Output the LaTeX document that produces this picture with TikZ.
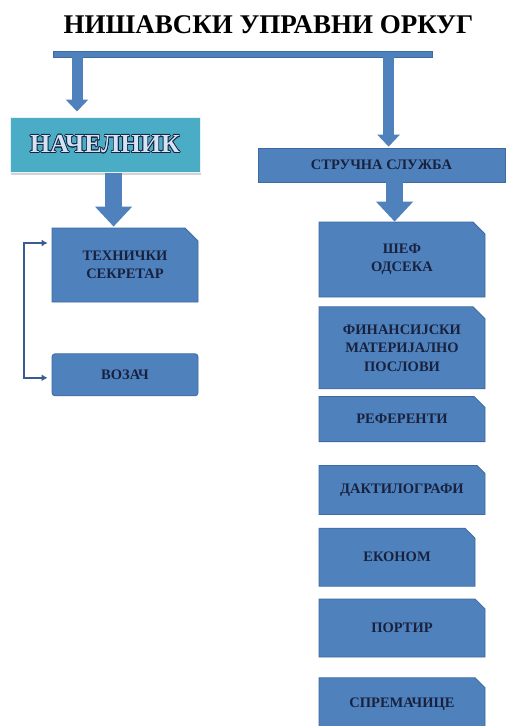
\documentclass[tikz,border=0pt]{standalone}
\usepackage{fontspec}
\setmainfont{Liberation Serif}
\usepackage[copies]{contour}
\contourlength{0.7pt}
\usepackage{tikz}
\usetikzlibrary{arrows.meta,positioning,shapes.misc,shadows,calc}
\definecolor{nuoblue}{HTML}{4F81BD}
\definecolor{nuoedge}{HTML}{3D6AA0}
\definecolor{nuoaqua}{HTML}{4BACC6}
\definecolor{nuonavy}{HTML}{18223F}
\definecolor{nuolight}{HTML}{D3E5F5}
\definecolor{nuoline}{HTML}{3A5D91}
\tikzset{
  unit/.style={chamfered rectangle,chamfered rectangle corners=north east,chamfered rectangle sep=6pt,fill=nuoblue,draw=nuoedge,line width=0.8pt,text=nuonavy,font=\bfseries\fontsize{14.5}{18.5}\selectfont,align=center,inner sep=0pt,minimum width=166pt},
  flatunit/.style={unit,rectangle,rounded corners=3pt},
  chiefbox/.style={rectangle,fill=nuoaqua,draw=white!85!nuoaqua,line width=1pt,inner sep=0pt,minimum width=190pt,minimum height=55pt,font=\bfseries\fontsize{26}{30}\selectfont,drop shadow={shadow xshift=1pt,shadow yshift=-3pt,opacity=0.35}},
  bar/.style={rectangle,fill=nuoblue,draw=nuoedge,line width=0.5pt,inner sep=0pt,minimum width=379pt,minimum height=6pt},
  thinar/.style={draw=nuoblue,line width=11pt,-{Triangle[length=12pt,width=22pt]}},
  blockar/.style={draw=nuoblue,line width=17pt,-{Triangle[length=20pt,width=36pt]}},
  bracket/.style={draw=nuoline,line width=2.5pt,{Latex[length=6pt,width=7pt]}-{Latex[length=6pt,width=7pt]}},
}
\begin{document}
\begin{tikzpicture}[x=1pt,y=-1pt,node distance=9pt]
    \useasboundingbox (0,0) rectangle (506,726);
    \node[anchor=base,font=\bfseries\fontsize{27}{30}\selectfont] (title) at (268.5,33) {НИШАВСКИ УПРАВНИ ОРКУГ};
    \node[bar] (bar) at (242.5,54) {};
    % left branch
    \node[chiefbox] (chief) at (105,144.5) {\contour{nuonavy}{\textcolor{nuolight}{НАЧЕЛНИК}}};
    \node[unit,minimum width=146pt,minimum height=74pt,chamfered rectangle sep=6.5pt] (tech) at (125,265) {ТЕХНИЧКИ\\СЕКРЕТАР};
    \node[flatunit,minimum width=146pt,minimum height=42pt,below=51pt of tech] (driver) {ВОЗАЧ};
    % right branch
    \node[unit,rectangle,minimum width=247pt,minimum height=34pt,font=\bfseries\fontsize{14.5}{16}\selectfont] (service) at (381.5,165) {СТРУЧНА СЛУЖБА};
    \node[unit,minimum height=75pt] (head) at (402,259.5) {ШЕФ\\ОДСЕКА};
    \node[unit,minimum height=82pt,below=9pt of head.south west,anchor=north west] (fin) {ФИНАНСИЈСКИ\\МАТЕРИЈАЛНО\\ПОСЛОВИ};
    \node[unit,minimum height=45pt,below=7pt of fin.south west,anchor=north west] (ref) {РЕФЕРЕНТИ};
    \node[unit,minimum height=49pt,chamfered rectangle sep=4pt,below=23pt of ref.south west,anchor=north west] (typist) {ДАКТИЛОГРАФИ};
    \node[unit,minimum width=156pt,minimum height=58pt,chamfered rectangle sep=5pt,below=13pt of typist.south west,anchor=north west] (steward) {ЕКОНОМ};
    \node[unit,minimum height=58pt,chamfered rectangle sep=5pt,below=12pt of steward.south west,anchor=north west] (porter) {ПОРТИР};
    \node[unit,minimum height=53pt,chamfered rectangle sep=5pt,below=20pt of porter.south west,anchor=north west] (cleaner) {СПРЕМАЧИЦЕ};
    % connectors
    \coordinate (chiefdrop) at ([xshift=67.5pt]chief.north west);
    \coordinate (servdrop) at ([xshift=131pt]service.north west);
    \coordinate (techtop) at ([xshift=62pt]tech.north west);
    \coordinate (headtop) at ([xshift=76pt]head.north west);
    \draw[thinar](bar.south -| chiefdrop)--([yshift=5pt]chiefdrop);\draw[thinar](bar.south -| servdrop)--([yshift=1pt]servdrop);
    \draw[blockar](chief.south -| techtop)--([yshift=1pt]techtop);\draw[blockar](service.south -| headtop)--(headtop);
    \draw[bracket]([shift={(-4pt,22pt)}]tech.west)--++(-23.5,0)|-([shift={(-4pt,-3pt)}]driver.west);
\end{tikzpicture}
\end{document}
